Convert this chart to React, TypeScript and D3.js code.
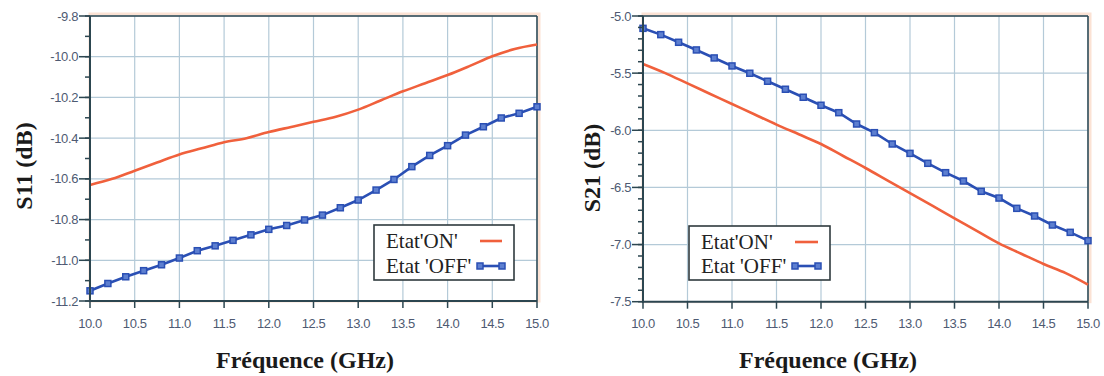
import React from "react";
import * as d3 from "d3";

// ---- Data ----
const freqOn = [10.0, 10.25, 10.5, 10.75, 11.0, 11.25, 11.5, 11.75, 12.0, 12.25, 12.5, 12.75, 13.0, 13.25, 13.5, 13.75, 14.0, 14.25, 14.5, 14.75, 15.0];
const s11On = [-10.63, -10.6, -10.56, -10.52, -10.48, -10.45, -10.42, -10.4, -10.37, -10.345, -10.32, -10.295, -10.26, -10.215, -10.17, -10.13, -10.09, -10.045, -9.998, -9.962, -9.94];
const s21On = [-5.42, -5.5, -5.59, -5.68, -5.77, -5.86, -5.95, -6.035, -6.12, -6.225, -6.33, -6.44, -6.55, -6.66, -6.77, -6.88, -6.99, -7.08, -7.17, -7.25, -7.35];

const freqOff = [10.0, 10.2, 10.4, 10.6, 10.8, 11.0, 11.2, 11.4, 11.6, 11.8, 12.0, 12.2, 12.4, 12.6, 12.8, 13.0, 13.2, 13.4, 13.6, 13.8, 14.0, 14.2, 14.4, 14.6, 14.8, 15.0];
const s11Off = [-11.15, -11.114, -11.081, -11.051, -11.022, -10.989, -10.953, -10.929, -10.902, -10.875, -10.848, -10.829, -10.802, -10.778, -10.742, -10.704, -10.655, -10.603, -10.54, -10.485, -10.437, -10.385, -10.344, -10.301, -10.278, -10.246];
const s21Off = [-5.108, -5.163, -5.23, -5.297, -5.367, -5.437, -5.501, -5.571, -5.641, -5.711, -5.781, -5.846, -5.945, -6.021, -6.12, -6.202, -6.289, -6.371, -6.444, -6.534, -6.593, -6.683, -6.75, -6.829, -6.893, -6.966];

const xTicks = [10.0, 10.5, 11.0, 11.5, 12.0, 12.5, 13.0, 13.5, 14.0, 14.5, 15.0];
const s11Ticks = [-11.2, -11.0, -10.8, -10.6, -10.4, -10.2, -10.0, -9.8];
const s21Ticks = [-7.5, -7.0, -6.5, -6.0, -5.5, -5.0];

const legendLabels = ["Etat'ON'", "Etat 'OFF'"];

const ORANGE = "#f0603c";
const BLUE = "#2a4fb4";
const GRID = "#b4cad8";
const FRAME = "#2c4650";
const TICKTXT = "#4e5a72";

type PanelProps = {
  x0: number; x1: number; y0: number; y1: number;
  yDomain: [number, number];
  yTicks: number[];
  onVals: number[];
  offVals: number[];
  yLabel: string;
  yLabelX: number;
  yLabelY: number;
  xLabelX: number;
  legend: { x: number; y: number; w: number; h: number; tx: number; lx0: number; lx1: number; r1: number; r2: number };
};

function Panel(p: PanelProps) {
  const x = d3.scaleLinear().domain([10, 15]).range([p.x0, p.x1]);
  const y = d3.scaleLinear().domain(p.yDomain).range([p.y1, p.y0]);
  const minor = d3.range(Math.round(p.yDomain[0] * 10), Math.round(p.yDomain[1] * 10) + 1).map((v) => v / 10);
  const lineOn = d3.line<number>().x((_, i) => x(freqOn[i])).y((d) => y(d)).curve(d3.curveMonotoneX);
  const lineOff = d3.line<number>().x((_, i) => x(freqOff[i])).y((d) => y(d));
  const lg = p.legend;
  const ms = 6;
  return (
    <g>
      <rect x={p.x0} y={p.y0 - 2} width={p.x1 - p.x0 + 2} height={p.y1 - p.y0 + 2} fill="none" stroke="#fbe2d4" strokeWidth={3} />
      <rect x={p.x0} y={p.y0} width={p.x1 - p.x0} height={p.y1 - p.y0} fill="#ffffff" />
      {xTicks.map((t) => (
        <line key={"gx" + t} x1={x(t)} x2={x(t)} y1={p.y0} y2={p.y1} stroke={GRID} strokeWidth={1.2} />
      ))}
      {p.yTicks.map((t) => (
        <line key={"gy" + t} x1={p.x0} x2={p.x1} y1={y(t)} y2={y(t)} stroke={GRID} strokeWidth={1.2} />
      ))}
      <line x1={p.x0} x2={p.x1} y1={p.y0} y2={p.y0} stroke={FRAME} strokeWidth={1.5} />
      <line x1={p.x1} x2={p.x1} y1={p.y0} y2={p.y1} stroke={FRAME} strokeWidth={1.5} />
      <path d={lineOn(p.onVals) || ""} fill="none" stroke={ORANGE} strokeWidth={2.6} />
      <path d={lineOff(p.offVals) || ""} fill="none" stroke={BLUE} strokeWidth={2.6} />
      {p.offVals.map((v, i) => (
        <rect key={"m" + i} x={x(freqOff[i]) - ms / 2} y={y(v) - ms / 2} width={ms} height={ms} fill="#5d7fd0" stroke={BLUE} strokeWidth={1.5} />
      ))}
      <line x1={p.x0} x2={p.x0} y1={p.y0} y2={p.y1 + 1} stroke={FRAME} strokeWidth={2} />
      <line x1={p.x0 - 1} x2={p.x1} y1={p.y1} y2={p.y1} stroke={FRAME} strokeWidth={2} />
      {minor.map((t) => (
        <line key={"mt" + t} x1={p.x0 - 5} x2={p.x0} y1={y(t)} y2={y(t)} stroke={FRAME} strokeWidth={1.5} />
      ))}
      {p.yTicks.map((t) => (
        <g key={"yt" + t}>
          <line x1={p.x0 - 11} x2={p.x0} y1={y(t)} y2={y(t)} stroke={FRAME} strokeWidth={1.5} />
          <text x={p.x0 - 12} y={y(t)} textAnchor="end" dominantBaseline="central" fontFamily="Liberation Sans, Arial, sans-serif" fontSize={13} fill={TICKTXT} letterSpacing={-0.4}>
            {d3.format(".1f")(t).replace("−", "-")}
          </text>
        </g>
      ))}
      {xTicks.map((t) => (
        <g key={"xt" + t}>
          <line x1={x(t)} x2={x(t)} y1={p.y1} y2={p.y1 + 7} stroke={FRAME} strokeWidth={1.5} />
          <text x={x(t)} y={p.y1 + 22} textAnchor="middle" dominantBaseline="central" fontFamily="Liberation Sans, Arial, sans-serif" fontSize={13} fill={TICKTXT} letterSpacing={-0.4}>
            {d3.format(".1f")(t)}
          </text>
        </g>
      ))}
      <text transform={`translate(${p.yLabelX},${p.yLabelY}) rotate(-90)`} textAnchor="middle" dominantBaseline="central" fontFamily="Liberation Serif, serif" fontWeight="bold" fontSize={24} fill="#1a1a1a">
        {p.yLabel}
      </text>
      <text x={p.xLabelX} y={368} textAnchor="middle" fontFamily="Liberation Serif, serif" fontWeight="bold" fontSize={24} fill="#1a1a1a">
        Fréquence (GHz)
      </text>
      <rect x={lg.x} y={lg.y} width={lg.w} height={lg.h} fill="#ffffff" stroke="#2f3a3e" strokeWidth={1.6} />
      <text x={lg.tx} y={lg.r1 + 7} fontFamily="Liberation Serif, serif" fontSize={21} fill="#222">{legendLabels[0]}</text>
      <text x={lg.tx} y={lg.r2 + 7} fontFamily="Liberation Serif, serif" fontSize={21} fill="#222">{legendLabels[1]}</text>
      <line x1={lg.lx0} x2={lg.lx1} y1={lg.r1} y2={lg.r1} stroke={ORANGE} strokeWidth={2.6} />
      <line x1={lg.lx0} x2={lg.lx1} y1={lg.r2} y2={lg.r2} stroke={BLUE} strokeWidth={2.6} />
      <rect x={lg.lx0 - ms / 2} y={lg.r2 - ms / 2} width={ms} height={ms} fill="#5d7fd0" stroke={BLUE} strokeWidth={1.5} />
      <rect x={lg.lx1 - ms / 2} y={lg.r2 - ms / 2} width={ms} height={ms} fill="#5d7fd0" stroke={BLUE} strokeWidth={1.5} />
    </g>
  );
}

export default function App() {
  return (
    <svg width={1104} height={376} style={{ position: "absolute", left: 0, top: 0, background: "#ffffff" }}>
      <rect x={0} y={0} width={1104} height={376} fill="#ffffff" />
      <Panel
        x0={90} x1={537} y0={16} y1={301}
        yDomain={[-11.2, -9.8]} yTicks={s11Ticks}
        onVals={s11On} offVals={s11Off}
        yLabel="S11 (dB)" yLabelX={24} yLabelY={166} xLabelX={305}
        legend={{ x: 374, y: 225, w: 140, h: 55, tx: 386, lx0: 480, lx1: 502, r1: 241, r2: 266 }}
      />
      <Panel
        x0={643} x1={1088} y0={16} y1={301.7}
        yDomain={[-7.5, -5.0]} yTicks={s21Ticks}
        onVals={s21On} offVals={s21Off}
        yLabel="S21 (dB)" yLabelX={592} yLabelY={168} xLabelX={828}
        legend={{ x: 689, y: 226, w: 141, h: 54, tx: 701, lx0: 795, lx1: 818, r1: 242, r2: 266 }}
      />
    </svg>
  );
}
